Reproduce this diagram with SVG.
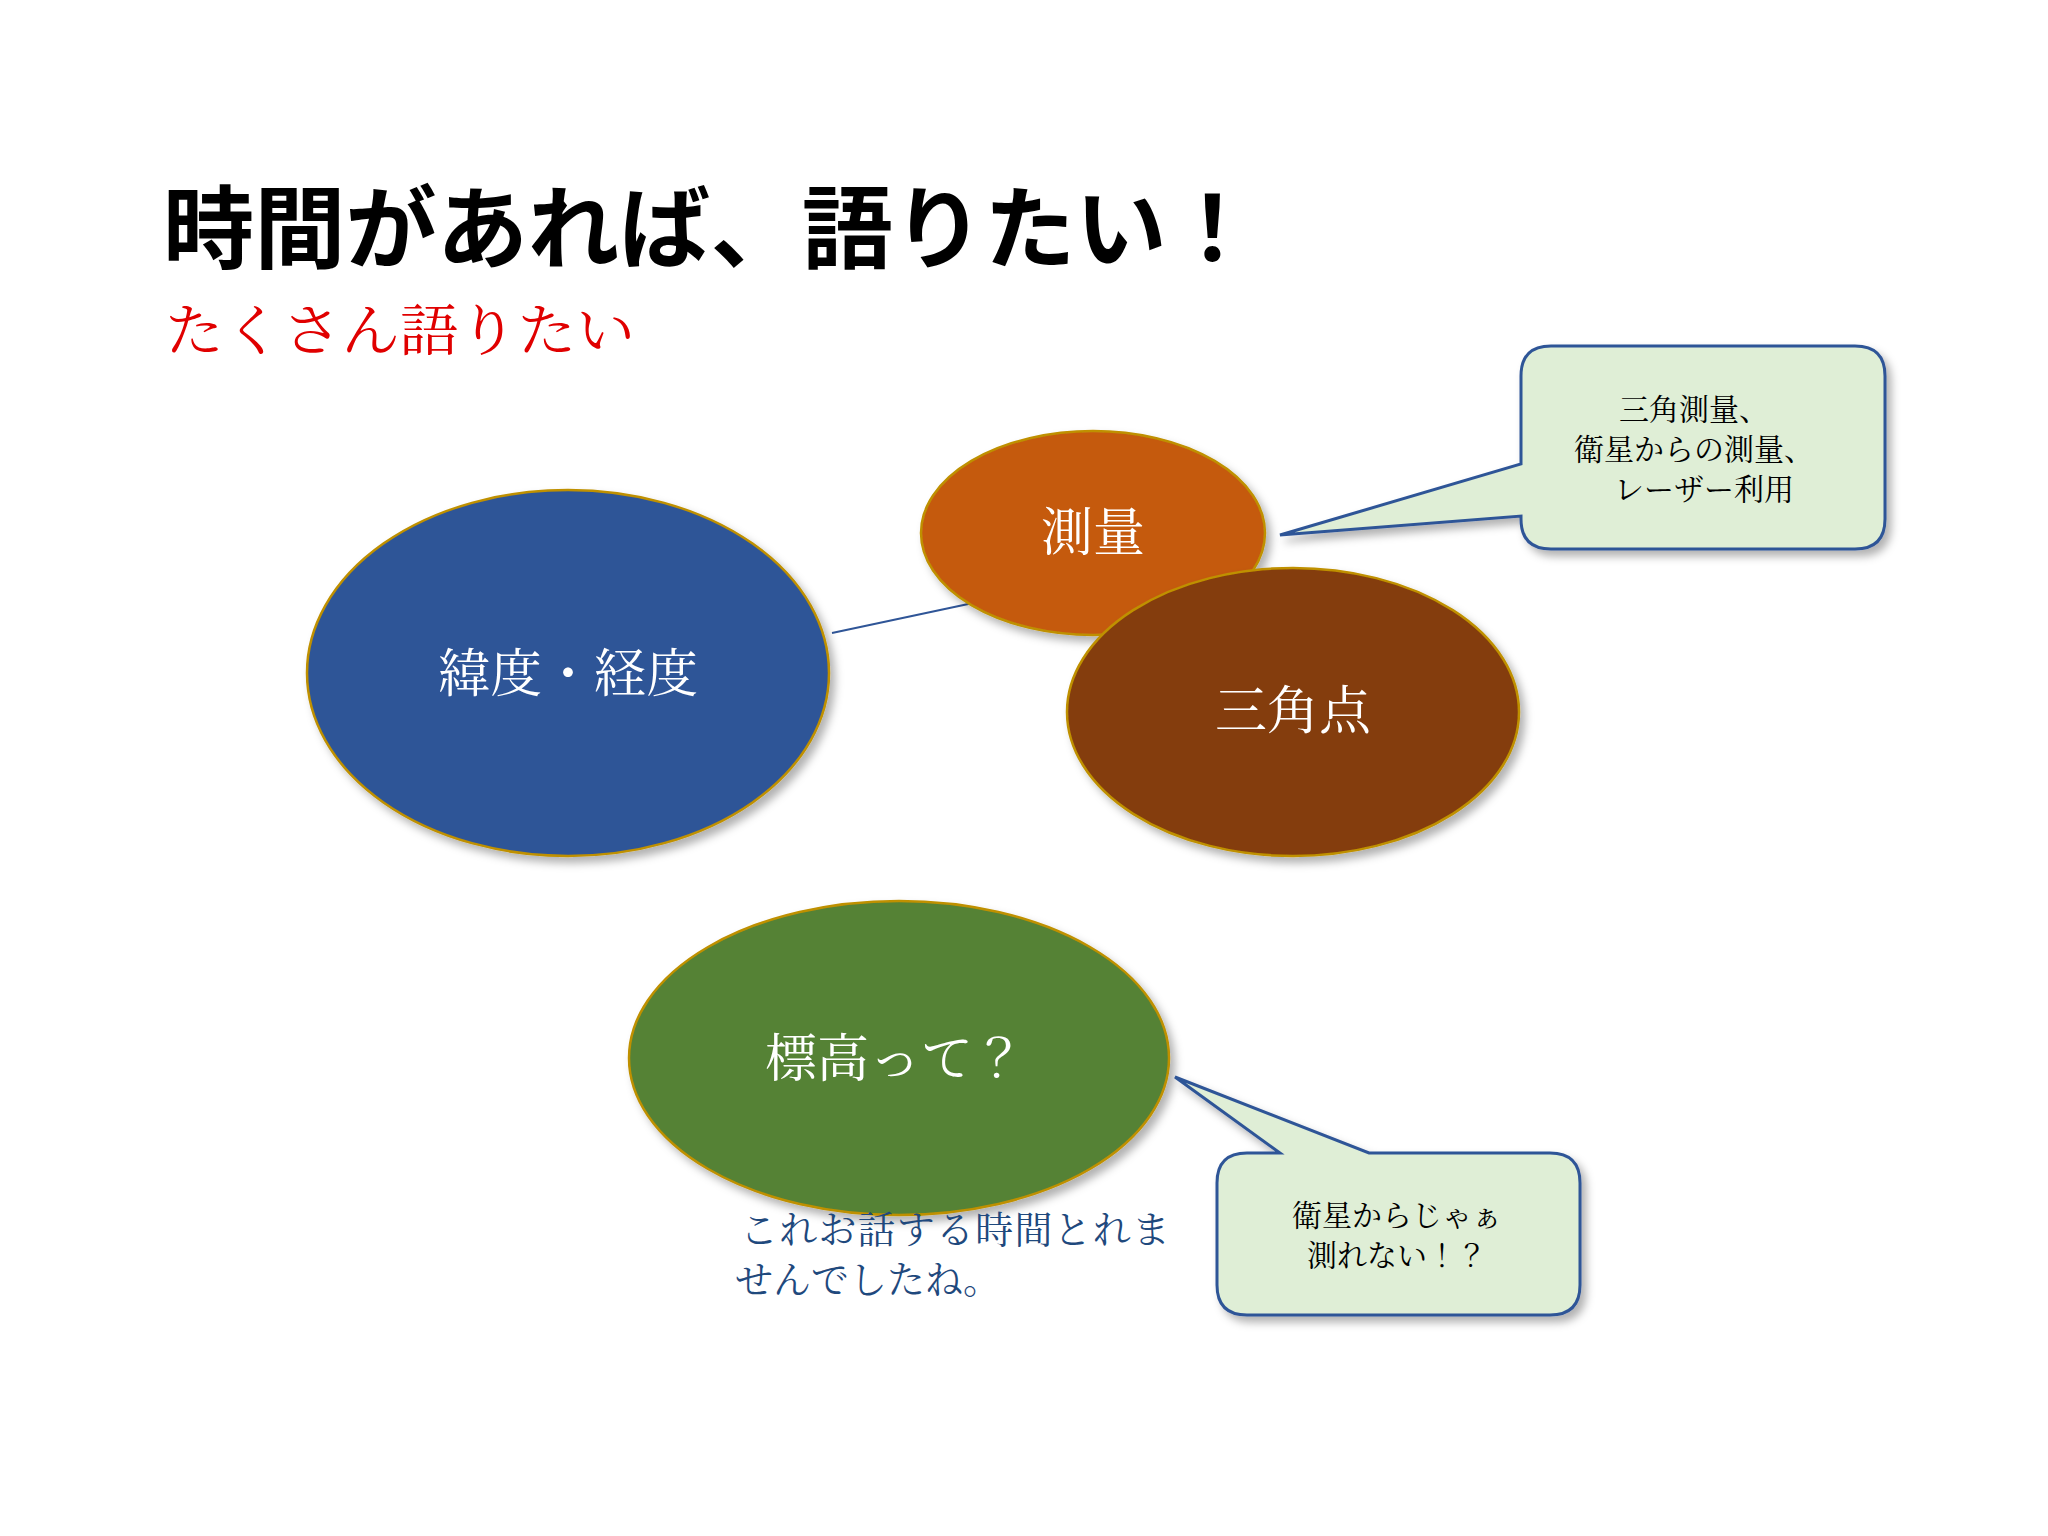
<svg xmlns="http://www.w3.org/2000/svg" width="2048" height="1536" viewBox="0 0 2048 1536">
<style>
.t{font-family:"Noto Sans CJK JP",sans-serif}
.s{font-family:"Noto Serif CJK JP","Noto Sans CJK JP",serif}
.el{stroke:#bf9000;stroke-width:2.5;filter:url(#sh)}
.lab{fill:#fff;font-size:52px;text-anchor:middle}
.co{fill:#dfeed6;stroke:#2f5597;stroke-width:3;filter:url(#sh)}
.ct{fill:#000;font-size:30px;text-anchor:middle}
</style>
<defs>
<filter id="sh" x="-20%" y="-20%" width="140%" height="140%"><feDropShadow dx="5" dy="6" stdDeviation="4" flood-color="#000" flood-opacity="0.3"/></filter>
</defs>
<rect width="2048" height="1536" fill="#fff"/>
<text class="t" x="163" y="261" font-size="90" font-weight="bold" textLength="1095" lengthAdjust="spacingAndGlyphs">時間があれば、語りたい！</text>
<text class="s" x="165" y="350" font-size="56" fill="#e00000" textLength="470" lengthAdjust="spacingAndGlyphs">たくさん語りたい</text>
<g id="connectors"><line x1="832" y1="633" x2="973" y2="603" stroke="#2f5597" stroke-width="2"/></g>
<g id="n1"><ellipse class="el" cx="568" cy="673" rx="261" ry="183" fill="#2f5597"/><text class="s lab" x="568" y="692">緯度・経度</text></g>
<g id="n2"><ellipse class="el" cx="1093" cy="533" rx="172" ry="102" fill="#c55a11"/><text class="s lab" x="1093" y="551">測量</text></g>
<g id="n3"><ellipse class="el" cx="1293" cy="712" rx="226" ry="144" fill="#843c0c"/><text class="s lab" x="1293" y="729">三角点</text></g>
<g id="n4"><ellipse class="el" cx="899" cy="1058" rx="270" ry="157" fill="#548235"/><text class="s lab" x="895" y="1077">標高って？</text></g>
<g id="c1"><path class="co" d="M1551 346 H1855 Q1885 346 1885 376 V519 Q1885 549 1855 549 H1551 Q1521 549 1521 519 V516 L1280 535 L1521 464 V376 Q1521 346 1551 346 Z"/>
<text class="s ct" x="1694" y="420">三角測量、</text><text class="s ct" x="1694" y="460">衛星からの測量、</text><text class="s ct" x="1704" y="500">レーザー利用</text></g>
<g id="c2"><path class="co" d="M1247 1153 H1280 L1175 1077 L1369 1153 H1550 Q1580 1153 1580 1183 V1285 Q1580 1315 1550 1315 H1247 Q1217 1315 1217 1285 V1183 Q1217 1153 1247 1153 Z"/>
<text class="s ct" x="1397" y="1226">衛星からじゃぁ</text><text class="s ct" x="1397" y="1266">測れない！？</text></g>
<g id="note" class="s" font-size="38" fill="#1f497d"><text x="740" y="1243" textLength="430" lengthAdjust="spacing">これお話する時間とれま</text><text x="735" y="1293">せんでしたね。</text></g>
</svg>
